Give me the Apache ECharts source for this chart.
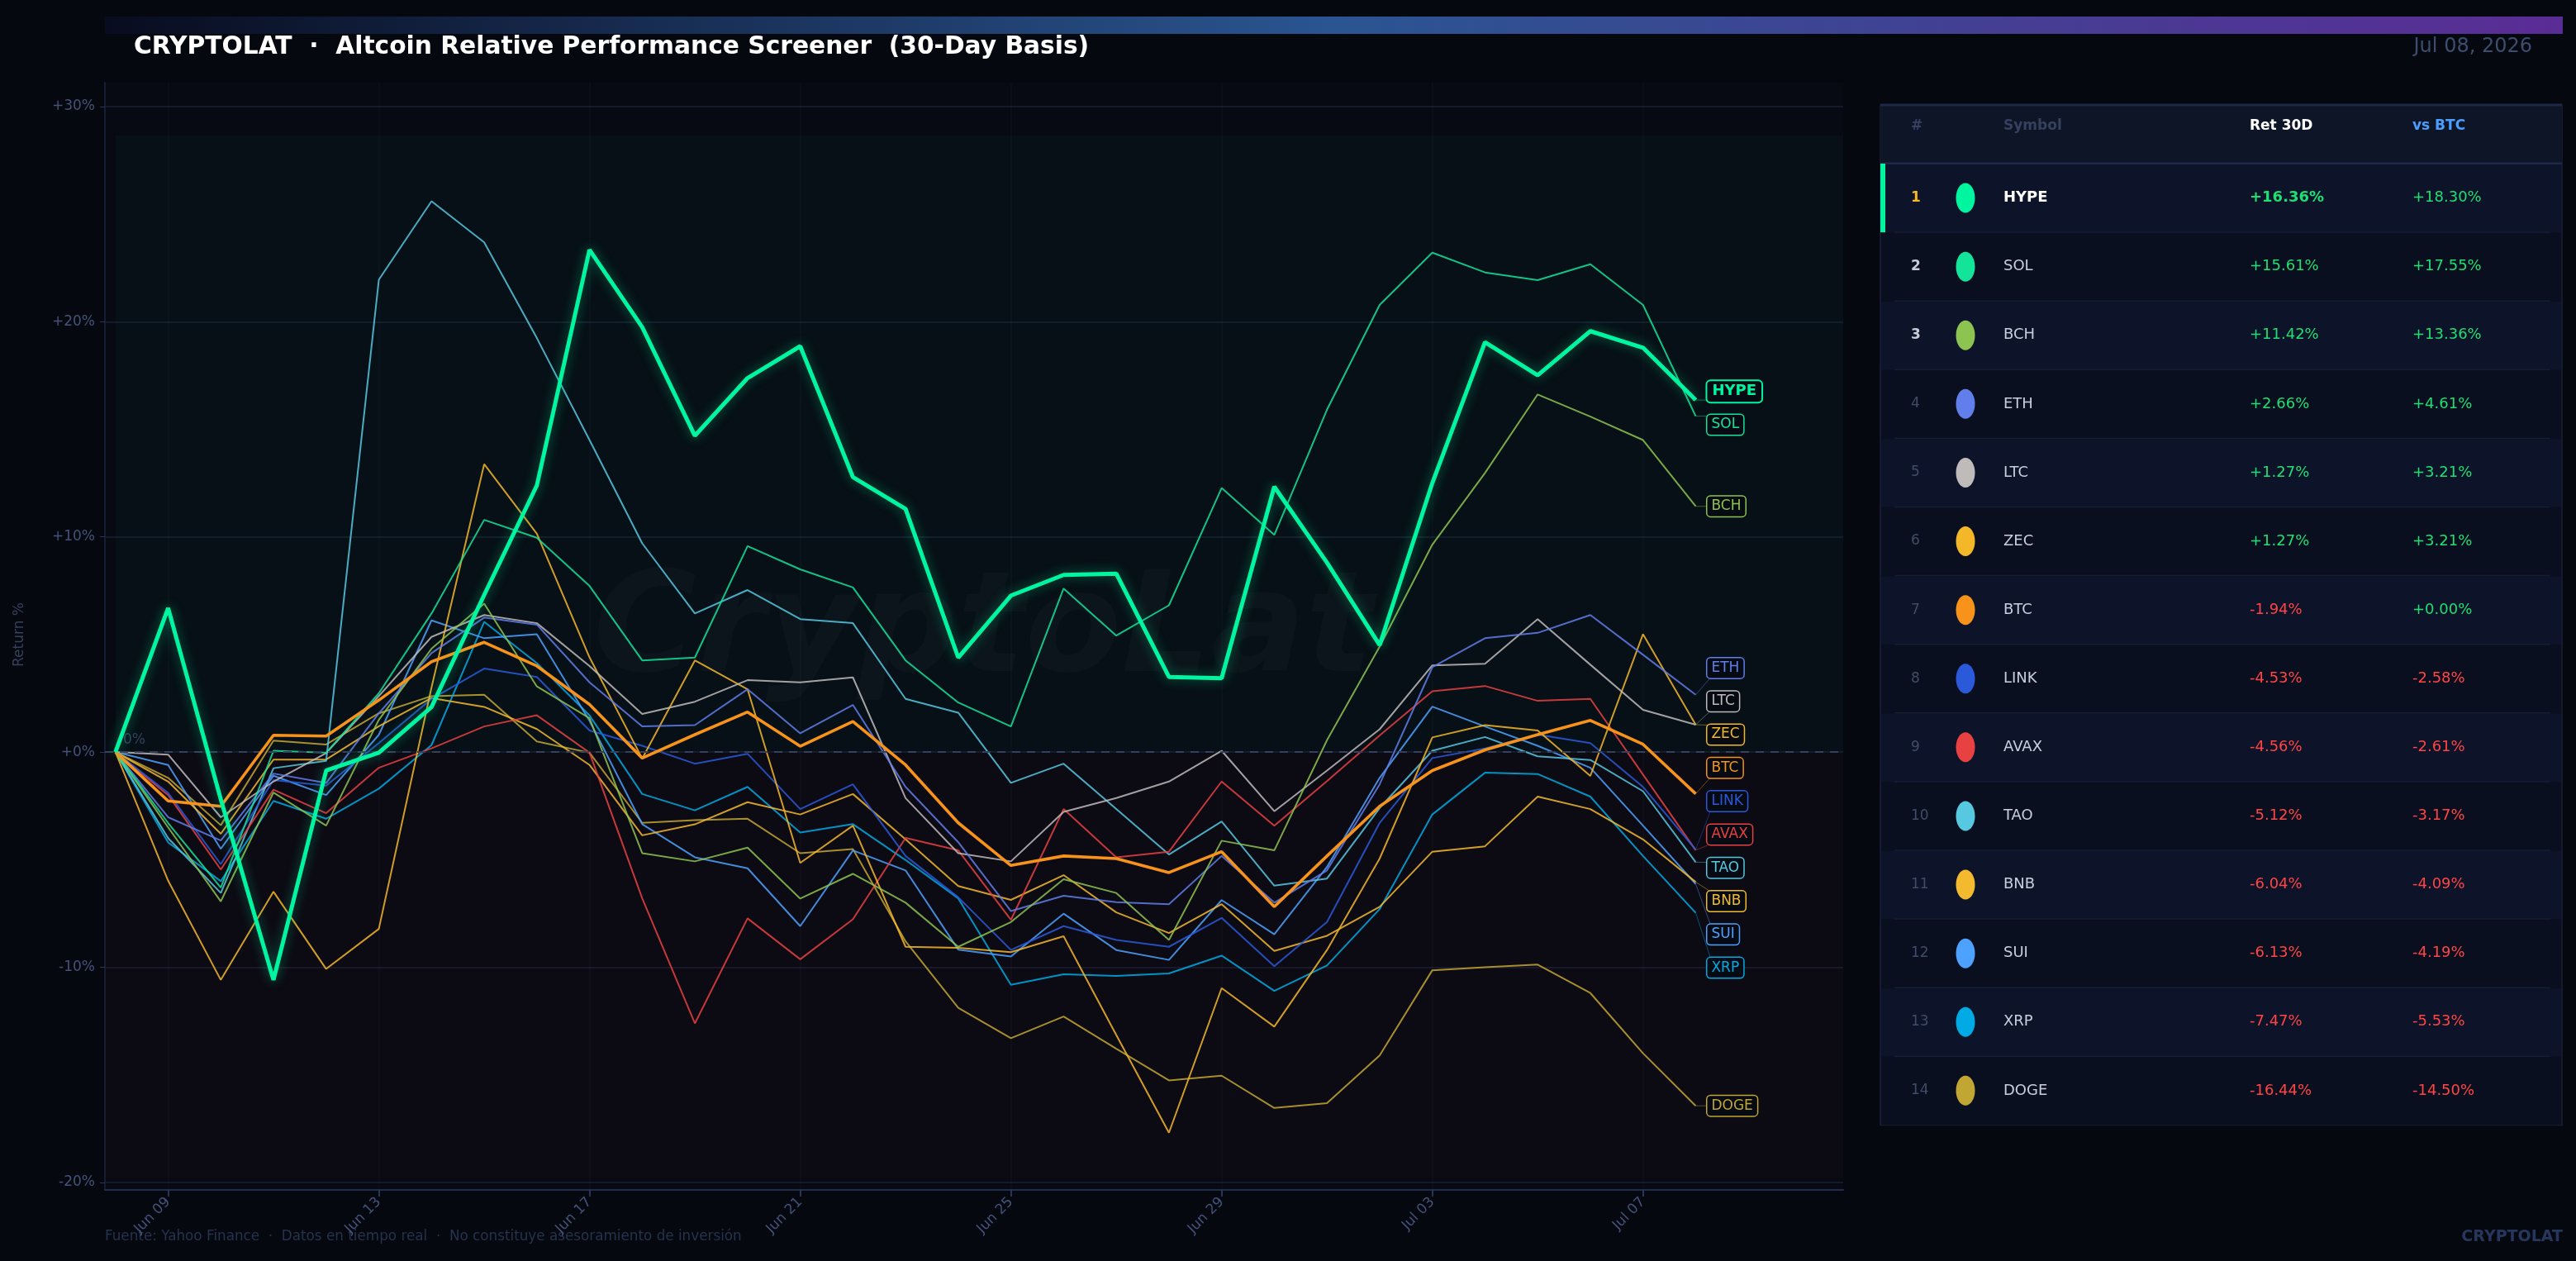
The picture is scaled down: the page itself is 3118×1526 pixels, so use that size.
<!DOCTYPE html>
<html>
<head>
<meta charset="utf-8">
<script src="https://cdn.jsdelivr.net/npm/echarts@6/dist/echarts.min.js"></script>
<style>
html,body{margin:0;padding:0;background:#05080e;}
#chart{width:3118px;height:1526px;}
</style>
</head>
<body>
<div id="chart"></div>
<script>
// ---------------- DATA ----------------
const dates = ['Jun 08','Jun 09','Jun 10','Jun 11','Jun 12','Jun 13','Jun 14','Jun 15','Jun 16','Jun 17','Jun 18','Jun 19','Jun 20','Jun 21','Jun 22','Jun 23','Jun 24','Jun 25','Jun 26','Jun 27','Jun 28','Jun 29','Jun 30','Jul 01','Jul 02','Jul 03','Jul 04','Jul 05','Jul 06','Jul 07','Jul 08'];
const xTickIdx = [1,5,9,13,17,21,25,29];
const yTicks = [-20,-10,0,10,20,30];

const symbols = ['HYPE','SOL','BCH','ETH','LTC','ZEC','BTC','LINK','AVAX','TAO','BNB','SUI','XRP','DOGE'];

const HYPE = [0,6.69,-2.2,-10.59,-0.86,-0.03,2.09,7.3,12.39,23.34,19.75,14.7,17.38,18.86,12.78,11.3,4.39,7.27,8.23,8.29,3.49,3.43,12.33,8.8,4.97,12.5,19.05,17.51,19.56,18.79,16.36];
const SOL  = [0,-3.3,-6.3,0.06,-0.03,2.73,6.44,10.79,9.96,7.72,4.26,4.39,9.57,8.49,7.65,4.26,2.3,1.19,7.6,5.41,6.82,12.27,10.09,15.91,20.78,23.21,22.29,21.93,22.67,20.78,15.61];
const BCH  = [0,-3.5,-6.94,-1.88,-3.42,1.5,4.8,6.9,3.05,1.57,-4.7,-5.08,-4.44,-6.81,-5.66,-7.0,-9.05,-7.9,-5.91,-6.55,-8.73,-4.12,-4.57,0.55,4.9,9.64,12.97,16.62,15.59,14.5,11.42];
const ETH  = [0,-3.03,-4.11,-1.0,-1.44,1.8,4.6,6.25,5.92,3.24,1.19,1.25,2.92,0.87,2.19,-1.62,-4.19,-7.39,-6.68,-6.98,-7.07,-4.83,-7.0,-5.5,-1.5,3.94,5.29,5.54,6.37,4.52,2.66];
const LTC  = [0,-0.12,-3.03,-1.37,-0.05,2.6,5.35,6.37,5.99,4.0,1.77,2.34,3.34,3.24,3.47,-2.14,-4.7,-5.08,-2.78,-2.14,-1.37,0.06,-2.75,-0.86,1.06,4.03,4.1,6.18,4.06,1.96,1.27];
const ZEC  = [0,-5.98,-10.59,-6.49,-10.08,-8.22,3.0,13.38,10.15,4.4,-0.3,4.26,2.92,-5.15,-3.42,-9.05,-9.1,-9.3,-8.56,-13.15,-17.69,-10.97,-12.76,-9.2,-4.95,0.68,1.25,1.0,-1.11,5.48,1.27];
const BTC  = [0,-2.27,-2.52,0.78,0.74,2.41,4.2,5.1,4.0,2.21,-0.28,0.81,1.86,0.27,1.42,-0.6,-3.29,-5.27,-4.83,-4.95,-5.6,-4.63,-7.19,-4.83,-2.52,-0.86,0.1,0.81,1.47,0.36,-1.94];
const LINK = [0,-1.9,-5.21,-1.3,-1.56,0.42,2.47,3.88,3.49,1.0,0.29,-0.54,-0.08,-2.65,-1.5,-4.83,-6.75,-9.2,-8.09,-8.73,-9.05,-7.71,-9.95,-7.9,-3.29,-0.28,0.17,0.81,0.42,-1.62,-4.53];
const AVAX = [0,-2.0,-5.46,-1.75,-2.84,-0.73,0.17,1.19,1.71,-0.03,-6.8,-12.61,-7.73,-9.63,-7.77,-3.99,-4.57,-7.8,-2.65,-4.89,-4.63,-1.37,-3.42,-1.35,0.77,2.83,3.07,2.38,2.47,-1.05,-4.56];
const TAO  = [0,-4.0,-6.55,-0.75,-0.41,21.95,25.6,23.69,19.24,14.5,9.7,6.44,7.53,6.18,5.99,2.47,1.83,-1.43,-0.54,-2.65,-4.76,-3.23,-6.21,-5.88,-2.6,0.06,0.7,-0.2,-0.37,-1.82,-5.12];
const BNB  = [0,-1.37,-3.8,-0.35,-0.35,1.2,2.51,2.1,1.07,-0.6,-3.87,-3.36,-2.33,-2.9,-1.95,-4.06,-6.23,-6.87,-5.72,-7.45,-8.41,-7.07,-9.24,-8.54,-7.19,-4.63,-4.38,-2.07,-2.65,-4.06,-6.04];
const SUI  = [0,-0.6,-4.5,-1.1,-2.0,0.8,6.12,5.29,5.48,1.45,-3.35,-4.89,-5.4,-8.09,-4.57,-5.5,-9.18,-9.5,-7.51,-9.2,-9.66,-6.88,-8.47,-5.34,-1.2,2.11,1.19,0.29,-0.73,-3.42,-6.13];
const XRP  = [0,-4.2,-6.0,-2.27,-3.1,-1.7,0.32,6.05,4.13,1.7,-1.95,-2.71,-1.62,-3.74,-3.35,-5.02,-6.8,-10.82,-10.33,-10.4,-10.29,-9.46,-11.1,-9.92,-7.3,-2.9,-0.96,-1.02,-2.07,-4.83,-7.47];
const DOGE = [0,-1.2,-3.4,0.53,0.35,1.8,2.6,2.66,0.49,-0.03,-3.29,-3.16,-3.1,-4.7,-4.51,-8.8,-11.89,-13.3,-12.29,-13.79,-15.26,-15.04,-16.54,-16.32,-14.1,-10.14,-10.0,-9.88,-11.2,-14.0,-16.44];

// table (ranked)
const ret30 = [16.36,15.61,11.42,2.66,1.27,1.27,-1.94,-4.53,-4.56,-5.12,-6.04,-6.13,-7.47,-16.44];
const vsBtc = [18.30,17.55,13.36,4.61,3.21,3.21,0.00,-2.58,-2.61,-3.17,-4.09,-4.19,-5.53,-14.50];

// ---------------- STYLE ----------------
const seriesData = {HYPE,SOL,BCH,ETH,LTC,ZEC,BTC,LINK,AVAX,TAO,BNB,SUI,XRP,DOGE};
const colors = {
  HYPE:'#00f5a0', SOL:'#14e39a', BCH:'#8dc351', ETH:'#627eea', LTC:'#bfbbbb', ZEC:'#f4b728',
  BTC:'#f7931a', LINK:'#2a5ada', AVAX:'#e84142', TAO:'#56c8e0', BNB:'#f3ba2f', SUI:'#4da2ff',
  XRP:'#00aae4', DOGE:'#c2a633'
};
const FONT = "'DejaVu Sans', sans-serif";
const GREEN = '#1fdf72', RED = '#ff4545';

const allVals = symbols.flatMap(s => seriesData[s]);
const bandTop = Math.max(...allVals) * 1.12;
const bandBottom = Math.min(...allVals) * 1.12;

const chart = echarts.init(document.getElementById('chart'), null, {renderer:'canvas'});

const lineSeries = symbols.slice().reverse().map(s => {
  const isH = s === 'HYPE', isB = s === 'BTC';
  return {
    type:'line', name:s,
    data: seriesData[s].map((v,i) => [i, v]),
    showSymbol:false, symbol:'none',
    z: isH ? 10 : (isB ? 8 : 3),
    lineStyle:{
      color: colors[s], width: isH ? 5 : (isB ? 3.6 : 2),
      opacity: (isH || isB) ? 1 : 0.85,
      shadowBlur: isH ? 14 : 0, shadowColor: isH ? 'rgba(0,245,160,0.45)' : 'rgba(0,0,0,0)'
    },
    emphasis:{disabled:true}
  };
});

lineSeries.unshift({
  type:'line', name:'_bands', data:[], silent:true, z:1,
  markArea:{
    silent:true,
    data:[
      [{xAxis:0, yAxis:0, itemStyle:{color:'rgba(0,210,150,0.035)'}}, {xAxis:32.8, yAxis:bandTop}],
      [{xAxis:-0.2, yAxis:bandBottom, itemStyle:{color:'rgba(255,40,90,0.025)'}}, {xAxis:32.8, yAxis:0}]
    ]
  },
  markLine:{
    silent:true, symbol:'none',
    lineStyle:{color:'#34405e', width:2, type:[10,8]},
    label:{show:true, position:'insideStartTop', formatter:'0%', color:'#35415e', fontSize:17, fontFamily:FONT, distance:[22,6]},
    data:[{yAxis:0}]
  }
});

// ---------------- GRAPHICS (header, table, footer) ----------------
const g = [];
g.push({type:'rect', z:0, shape:{x:127,y:20,width:2975,height:21}, style:{fill:new echarts.graphic.LinearGradient(0,0,1,0,[
  {offset:0,color:'#080c1f'},{offset:0.5,color:'#2a5591'},{offset:1,color:'#5a2c95'}])}});
g.push({type:'text', x:162, y:57, style:{text:'CRYPTOLAT  ·  Altcoin Relative Performance Screener  (30-Day Basis)',
  fill:'#ffffff', font:"bold 29.7px 'DejaVu Sans'", textVerticalAlign:'middle'}});
g.push({type:'text', x:3065, y:57, style:{text:'Jul 08, 2026', fill:'#3d4d6f', font:"24px 'DejaVu Sans'", textAlign:'right', textVerticalAlign:'middle'}});
g.push({type:'text', x:24, y:768, rotation:Math.PI/2, style:{text:'Return %', fill:'#35415e', font:"17px 'DejaVu Sans'", textAlign:'center', textVerticalAlign:'middle'}});
g.push({type:'text', x:1190, y:768, z:0, style:{text:'CryptoLat', fill:'rgba(255,255,255,0.022)', font:"italic bold 170px 'DejaVu Sans'", textAlign:'center', textVerticalAlign:'middle'}});
g.push({type:'text', x:127, y:1497, style:{text:'Fuente: Yahoo Finance  ·  Datos en tiempo real  ·  No constituye asesoramiento de inversión',
  fill:'#27324e', font:"16.8px 'DejaVu Sans'", textVerticalAlign:'middle'}});
g.push({type:'text', x:3102, y:1497, style:{text:'CRYPTOLAT', fill:'#27365c', font:"bold 19px 'DejaVu Sans'", textAlign:'right', textVerticalAlign:'middle'}});

// table
const TL = 2276, TR = 3101, TT = 127, HB = 198, RH = 83.1;
const TB = HB + RH * symbols.length;
g.push({type:'rect', shape:{x:TL,y:TT,width:TR-TL,height:TB-TT}, style:{fill:'#0b1020', stroke:'#18213a', lineWidth:1.5}});
g.push({type:'rect', shape:{x:TL,y:TT,width:TR-TL,height:HB-TT}, style:{fill:'#0e1526'}});
g.push({type:'line', shape:{x1:TL,y1:TT,x2:TR,y2:TT}, style:{stroke:'#1d2946', lineWidth:3}});
g.push({type:'line', shape:{x1:TL,y1:HB,x2:TR,y2:HB}, style:{stroke:'#1d2946', lineWidth:3}});
const colX = {rank:2313, dot:2379, sym:2425, ret:2723, vs:2920};
const hy = 153;
[['#',colX.rank,'#35415e'],['Symbol',colX.sym,'#35415e'],['Ret 30D',colX.ret,'#ffffff'],['vs BTC',colX.vs,'#4a9eff']].forEach(h => {
  g.push({type:'text', x:h[1], y:hy, style:{text:h[0], fill:h[2], font:"bold 17px 'DejaVu Sans'", textVerticalAlign:'middle'}});
});
const fmt = v => (v >= 0 ? '+' : '') + v.toFixed(2) + '%';
symbols.forEach((s, i) => {
  const top = HB + i * RH, cy = top + RH / 2;
  g.push({type:'rect', shape:{x:TL+1,y:top+1,width:TR-TL-2,height:RH-1}, style:{fill: i % 2 === 0 ? '#0d1328' : '#0a0f1f'}});
  if (i > 0) g.push({type:'line', shape:{x1:2293,y1:top,x2:3087,y2:top}, style:{stroke:'#151d33', lineWidth:1.5}});
  if (i === 0) g.push({type:'rect', shape:{x:TL,y:top,width:6,height:RH}, style:{fill:colors.HYPE}});
  const rankCol = i === 0 ? '#f5b820' : (i < 3 ? '#c9ccd6' : '#414d68');
  g.push({type:'text', x:colX.rank, y:cy, style:{text:String(i+1), fill:rankCol, font:(i<3?'bold ':'')+"17px 'DejaVu Sans'", textVerticalAlign:'middle'}});
  g.push({type:'ellipse', shape:{cx:colX.dot, cy:cy, rx:11.5, ry:18}, style:{fill:colors[s]}});
  g.push({type:'text', x:colX.sym, y:cy, style:{text:s, fill: i===0 ? '#ffffff' : '#c8cfdc', font:(i===0?'bold ':'')+"18px 'DejaVu Sans'", textVerticalAlign:'middle'}});
  g.push({type:'text', x:colX.ret, y:cy, style:{text:fmt(ret30[i]), fill: ret30[i] >= 0 ? GREEN : RED, font:(i===0?'bold ':'')+"18px 'DejaVu Sans'", textVerticalAlign:'middle'}});
  g.push({type:'text', x:colX.vs, y:cy, style:{text:fmt(vsBtc[i]), fill: vsBtc[i] >= 0 ? GREEN : RED, font:"18px 'DejaVu Sans'", textVerticalAlign:'middle'}});
});

const option = {
  backgroundColor:'#05080e',
  animation:false,
  textStyle:{fontFamily:FONT},
  grid:{left:127, right:887, top:100, bottom:86, show:true, backgroundColor:'#070a12', borderWidth:0},
  xAxis:{
    type:'value', min:-0.2, max:32.8,
    axisLine:{show:true, onZero:false, lineStyle:{color:'#232c4a', width:2}},
    axisTick:{show:true, customValues:xTickIdx, length:8, lineStyle:{color:'#2a3456', width:2}},
    axisLabel:{customValues:xTickIdx, formatter:v => dates[v], rotate:45, color:'#44537a', fontSize:17, fontFamily:FONT, margin:12},
    splitLine:{show:true, lineStyle:{color:'rgba(120,140,200,0.05)', width:1.5}}
  },
  yAxis:{
    type:'value', min:-20.35, max:31.11,
    axisLine:{show:true, onZero:false, lineStyle:{color:'#1c2540', width:1.5}},
    axisTick:{show:true, customValues:yTicks, length:6, lineStyle:{color:'#2a3456'}},
    axisLabel:{customValues:yTicks, formatter:v => (v >= 0 ? '+' : '') + v + '%', color:'#44537a', fontSize:17, fontFamily:FONT, margin:12},
    splitLine:{show:true, lineStyle:{color:'#131a2b', width:2}}
  },
  graphic:{elements:g},
  series: lineSeries
};
chart.setOption(option);

// ---------------- END LABELS (positions from the library's scales, de-overlapped) ----------------
const lastIdx = dates.length - 1;
const GAP = 40.3, BOXH = 27;
const items = symbols.map(s => {
  const p = chart.convertToPixel({gridIndex:0}, [lastIdx, seriesData[s][lastIdx]]);
  return {s, px:p[0], y0:p[1]};
}).sort((a,b) => a.y0 - b.y0);
let clusters = items.map(it => ({m:[it], c:it.y0}));
let changed = true;
while (changed) {
  changed = false;
  for (let i = 0; i < clusters.length - 1; i++) {
    const a = clusters[i], b = clusters[i+1];
    const aBot = a.c + (a.m.length - 1) * GAP / 2;
    const bTop = b.c - (b.m.length - 1) * GAP / 2;
    if (bTop - aBot < GAP) {
      const m = a.m.concat(b.m);
      const c = m.reduce((t, it) => t + it.y0, 0) / m.length;
      clusters.splice(i, 2, {m, c});
      changed = true;
      break;
    }
  }
}
clusters.forEach(cl => cl.m.forEach((it, k) => { it.y = cl.c + (k - (cl.m.length - 1) / 2) * GAP; }));

const labelEls = [];
items.forEach(it => {
  const isH = it.s === 'HYPE';
  const lx = it.px + 14;
  const yEnd = Math.max(it.y - BOXH/2 + 2, Math.min(it.y + BOXH/2 - 2, it.y0));
  labelEls.push({type:'line', z:20, shape:{x1:it.px, y1:it.y0, x2:lx + 4, y2:yEnd},
    style:{stroke:colors[it.s], lineWidth:1, opacity:0.45}});
  labelEls.push({type:'text', z:21, x:lx, y:it.y, style:{
    text:it.s, fill:colors[it.s], font:(isH ? "bold 18px " : "17px ") + "'DejaVu Sans'",
    textVerticalAlign:'middle', backgroundColor:'#060a12', borderColor:colors[it.s],
    borderWidth: isH ? 2 : 1.5, borderRadius:4, padding: isH ? [4,6,3,6] : [4,5,3,5]
  }});
});
chart.setOption({graphic:{elements: g.concat(labelEls)}});
</script>
</body>
</html>
